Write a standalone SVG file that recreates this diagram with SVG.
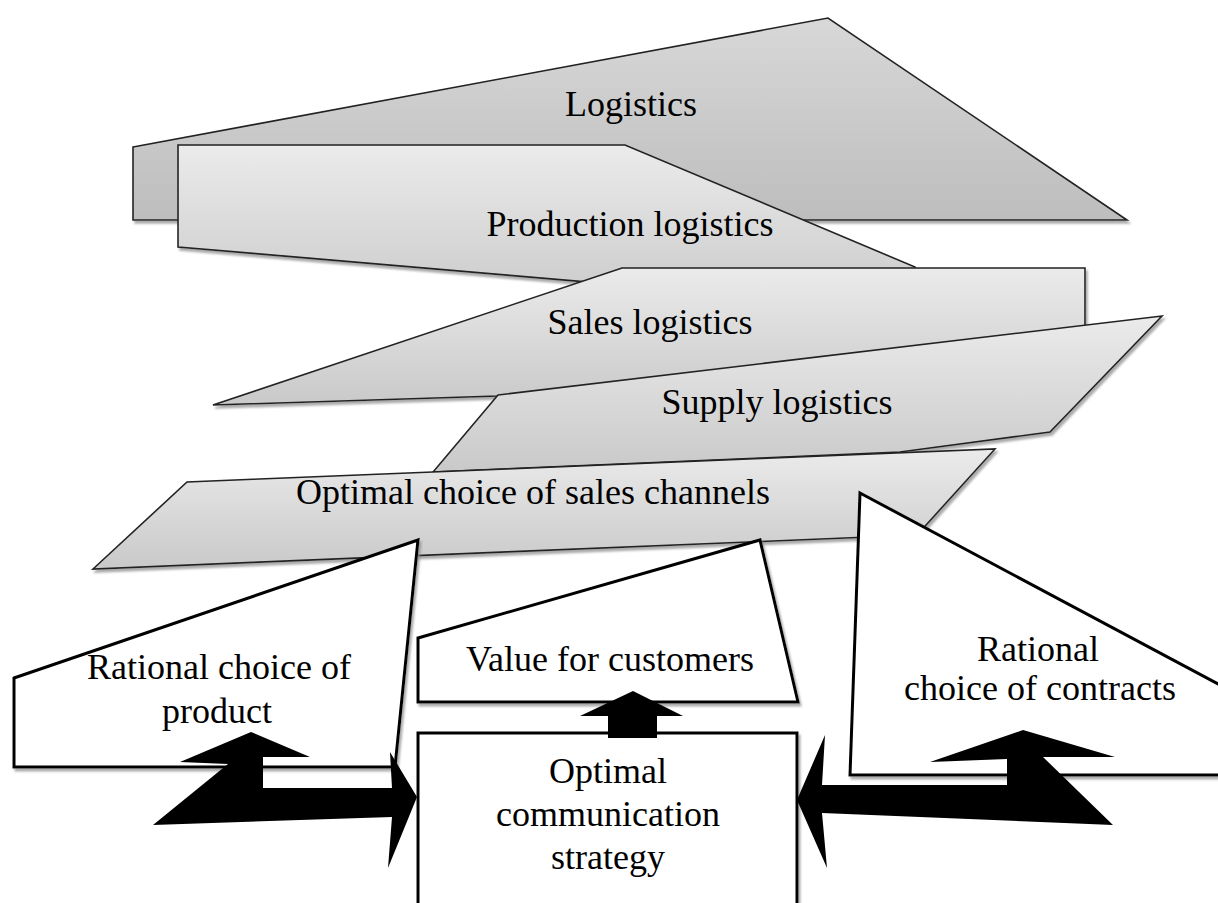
<svg xmlns="http://www.w3.org/2000/svg" width="1218" height="903" viewBox="0 0 1218 903">
<defs>
<linearGradient id="g1" x1="0" y1="0" x2="0" y2="1">
<stop offset="0" stop-color="#d8d8d8"/><stop offset="1" stop-color="#bdbdbd"/>
</linearGradient>
<linearGradient id="g2" x1="0" y1="0" x2="0" y2="1">
<stop offset="0" stop-color="#ebebeb"/><stop offset="1" stop-color="#c9c9c9"/>
</linearGradient>
<filter id="sh" x="-5%" y="-5%" width="115%" height="120%">
<feDropShadow dx="2" dy="3" stdDeviation="1.2" flood-color="#888" flood-opacity="0.7"/>
</filter>
</defs>
<style>
.grey{stroke:#222;stroke-width:1.6;stroke-linejoin:miter;filter:url(#sh)}
.white{fill:#fff;stroke:#000;stroke-width:3;stroke-linejoin:miter;filter:url(#sh)}
.arrow{fill:#000;stroke:none}
text{font-family:"Liberation Serif","Times New Roman",serif;font-size:36px;fill:#000;text-anchor:middle}
</style>
<rect width="1218" height="903" fill="#fff"/>
<g id="logistics">
<polygon class="grey" fill="url(#g1)" points="133,147 828,18 1127,220 133,220"/>
<text x="631" y="116">Logistics</text>
</g>
<g id="production-logistics">
<polygon class="grey" fill="url(#g2)" points="178,145 625,145 915,267 915,310 178,247"/>
<text x="630" y="236">Production logistics</text>
</g>
<g id="sales-logistics">
<polygon class="grey" fill="url(#g2)" points="213,405 622,268 1085,268 1085,335 498,396"/>
<text x="650" y="334">Sales logistics</text>
</g>
<g id="supply-logistics">
<polygon class="grey" fill="url(#g2)" points="498,395 1162,316 1050,432 900,452 433,472"/>
<text x="777" y="414">Supply logistics</text>
</g>
<g id="sales-channels">
<polygon class="grey" fill="url(#g2)" points="93,569 187,482 995,449 917,535"/>
<text x="533" y="504">Optimal choice of sales channels</text>
</g>
<g id="product">
<polygon class="white" points="14,678 418,540 395,767 14,767"/>
<text x="219" y="679">Rational choice of</text>
<text x="217" y="723">product</text>
</g>
<g id="value">
<polygon class="white" points="418,638 760,540 798,702 418,702"/>
<text x="610" y="671">Value for customers</text>
</g>
<g id="contracts">
<polygon class="white" points="860,493 1235,693 1235,775 850,775"/>
<text x="1038" y="661">Rational</text>
<text x="1040" y="700">choice of contracts</text>
</g>
<g id="communication">
<polygon class="white" points="418,733 797,733 797,910 418,910"/>
<text x="608" y="783">Optimal</text>
<text x="608" y="826">communication</text>
<text x="608" y="869">strategy</text>
</g>
<g id="connectors">
<polygon class="arrow" points="180,762 251,732 310,757 263,757 263,788 392,788 390,752 417,797 388,868 392,817 153,825 228,764"/>
<polygon class="arrow" points="930,762 1023,730 1115,757 1043,757 1113,825 822,813 827,868 797,800 825,735 822,785 1007,785 1007,759"/>
<polygon class="arrow" points="580,716 633,691 683,716 657,716 657,738 608,738 608,716"/>
</g>
</svg>
